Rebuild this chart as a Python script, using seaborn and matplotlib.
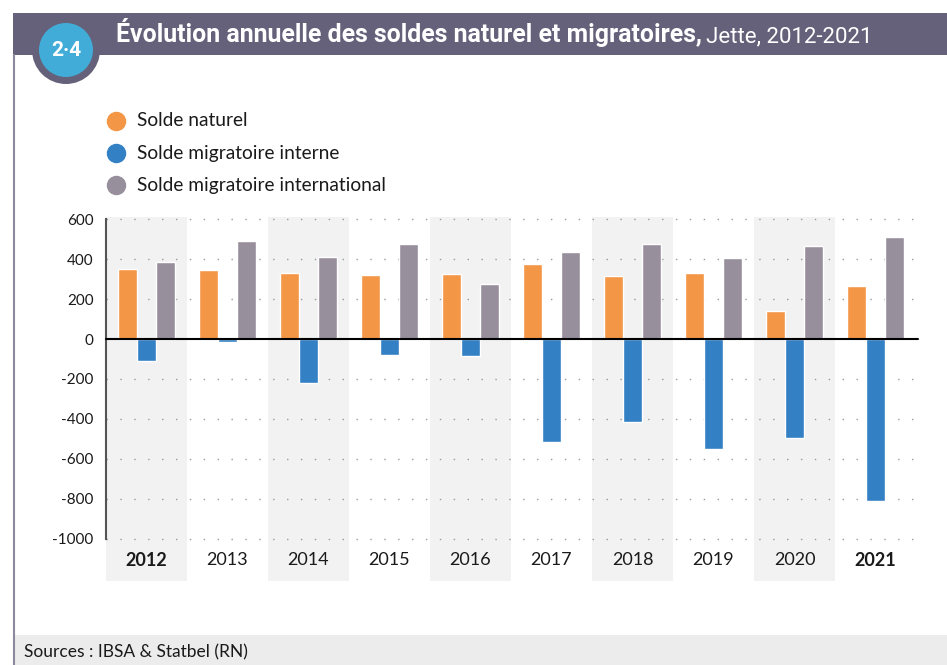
import pandas as pd
import matplotlib.pyplot as plt
import seaborn as sns
from matplotlib.patches import Rectangle, Circle
from matplotlib.lines import Line2D

# ---------- DATA ----------
annees = ['2012', '2013', '2014', '2015', '2016', '2017', '2018', '2019', '2020', '2021']
solde_naturel = [350, 345, 330, 320, 325, 375, 315, 330, 140, 265]
solde_migr_interne = [-108, -13, -218, -78, -83, -515, -415, -550, -495, -810]
solde_migr_international = [385, 490, 410, 475, 275, 435, 475, 405, 465, 510]
series = ['Solde naturel', 'Solde migratoire interne', 'Solde migratoire international']
couleurs = ['#f39645', '#3380c4', '#988f9c']
annees_gras = ['2012', '2021']
yticks = [600, 400, 200, 0, -200, -400, -600, -800, -1000]

df = pd.DataFrame({
    'Annee': annees * 3,
    'Serie': [s for s in series for _ in annees],
    'Valeur': solde_naturel + solde_migr_interne + solde_migr_international,
})

# ---------- FIGURE ----------
W, H = 947, 665
sns.set_style('white')
plt.rcParams['font.family'] = ['Lato', 'DejaVu Sans']
fig = plt.figure(figsize=(W / 100, H / 100), dpi=100)


def fx(px):
    return px / W


def fy(py):
    return 1 - py / H


# cadre : barre de titre, bordure gauche, pied de page
fig.add_artist(Rectangle((fx(13), fy(55)), fx(W - 13), 42.3 / H, transform=fig.transFigure,
                         color='#66617a', lw=0))
fig.add_artist(Line2D([fx(14), fx(14)], [fy(55), 0], transform=fig.transFigure,
                      color='#8d889c', lw=1.5))
fig.add_artist(Rectangle((fx(14), 0), fx(W - 14), 30 / H, transform=fig.transFigure,
                         color='#ececec', lw=0))

# pastille "2·4"
ax_badge = fig.add_axes([0, 0, 1, 1], zorder=5)
ax_badge.set_xlim(0, W)
ax_badge.set_ylim(H, 0)
ax_badge.axis('off')
ax_badge.add_patch(Circle((66, 50), 34, color='#66617a', lw=0))
ax_badge.add_patch(Circle((66, 50), 27, color='#42acd8', lw=0))
ax_badge.text(66, 51, '2·4', color='white', fontsize=15, fontweight='bold',
              ha='center', va='center', family=['Roboto', 'DejaVu Sans'])

titre_font = ['Roboto', 'DejaVu Sans']
t1 = fig.text(fx(116), fy(42), 'Évolution annuelle des soldes naturel et migratoires,',
              color='white', fontsize=17.9, fontweight='bold', va='baseline', family=titre_font)
fig.canvas.draw()
bb = t1.get_window_extent()
fig.text(bb.x1 / W + 0.004, fy(42), 'Jette, 2012-2021', color='white', fontsize=16,
         va='baseline', family=titre_font)

fig.text(fx(24), fy(652), 'Sources : IBSA & Statbel (RN)', fontsize=12.5,
         color='#1a1a1a', va='center')

# légende
for i, (s, c) in enumerate(zip(series, couleurs)):
    y = fy(121 + 32 * i)
    fig.add_artist(Line2D([fx(116)], [y], transform=fig.transFigure, marker='o',
                          markersize=13, color=c, lw=0))
    fig.text(fx(137), y, s, fontsize=13.8, va='center', color='#1a1a1a')

# ---------- GRAPHIQUE ----------
ax = fig.add_axes([fx(106), fy(581), fx(916 - 106), 364 / H])
ax.patch.set_alpha(0)

for i in range(0, len(annees), 2):
    ax.axvspan(i - 0.5, i + 0.5, color='#f2f2f2', lw=0, zorder=0)

for v in yticks:
    if v != 0:
        ax.axhline(v, color='#9a9a9a', lw=1, ls=(0, (1, 9)), zorder=1)

sns.barplot(data=df, x='Annee', y='Valeur', hue='Serie', order=annees, hue_order=series,
            palette=couleurs, width=0.7, saturation=1, legend=False, ax=ax, zorder=2)

ax.axhline(0, color='black', lw=1.5, zorder=3, xmin=0, xmax=1.003, clip_on=False)

ax.set_xlim(-0.5, len(annees) - 0.5)
ax.set_ylim(-1213, 612)
ax.set_yticks(yticks)
ax.set_yticklabels([str(v) for v in yticks], fontsize=11, color='#1a1a1a')
ax.tick_params(axis='y', length=0, pad=9)
ax.set_xticks([])
ax.set_xlabel('')
ax.set_ylabel('')

for i, a in enumerate(annees):
    ax.text(i, -1110, a, ha='center', va='center', fontsize=13, color='#1a1a1a',
            fontweight='bold' if a in annees_gras else 'normal')

for side in ['top', 'right', 'bottom']:
    ax.spines[side].set_visible(False)
ax.spines['left'].set_bounds(-1000, 600)
ax.spines['left'].set_color('#555555')
ax.spines['left'].set_linewidth(1.5)

fig.savefig('out.png', dpi=100)
